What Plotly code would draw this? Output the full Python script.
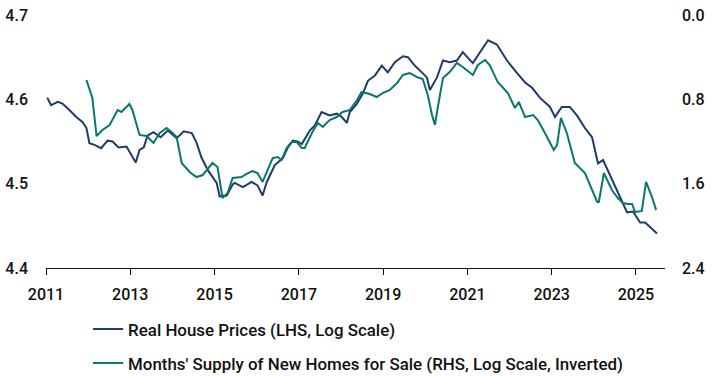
import plotly.graph_objects as go

# Real house prices (log), left axis
price_year = [2011.03, 2011.12, 2011.28, 2011.39, 2011.56, 2011.72, 2011.87, 2011.96,
              2012.03, 2012.15, 2012.31, 2012.46, 2012.58, 2012.72, 2012.91, 2013.13,
              2013.22, 2013.32, 2013.41, 2013.55, 2013.72, 2013.89, 2014.10, 2014.27,
              2014.46, 2014.57, 2014.69, 2014.84, 2015.05, 2015.12, 2015.29, 2015.43,
              2015.48, 2015.67, 2015.88, 2016.02, 2016.14, 2016.24, 2016.43, 2016.62,
              2016.74, 2016.86, 2016.97, 2017.07, 2017.26, 2017.38, 2017.54, 2017.73,
              2017.90, 2018.02, 2018.14, 2018.21, 2018.38, 2018.52, 2018.64, 2018.80,
              2018.97, 2019.11, 2019.28, 2019.47, 2019.59, 2019.75, 2019.92, 2020.04,
              2020.11, 2020.28, 2020.42, 2020.58, 2020.75, 2020.89, 2021.13, 2021.49,
              2021.70, 2021.94, 2022.18, 2022.37, 2022.53, 2022.72, 2022.96, 2023.08,
              2023.24, 2023.43, 2023.60, 2023.79, 2023.96, 2024.10, 2024.22, 2024.39,
              2024.55, 2024.69, 2024.79, 2024.93, 2025.10, 2025.22, 2025.38, 2025.50]
price_log = [4.602, 4.593, 4.597, 4.595, 4.587, 4.579, 4.573, 4.566,
             4.548, 4.546, 4.542, 4.551, 4.550, 4.543, 4.544, 4.525,
             4.540, 4.543, 4.557, 4.561, 4.555, 4.563, 4.554, 4.562,
             4.560, 4.549, 4.531, 4.516, 4.501, 4.485, 4.486, 4.499,
             4.501, 4.496, 4.502, 4.498, 4.486, 4.502, 4.522, 4.530,
             4.543, 4.551, 4.550, 4.547, 4.563, 4.569, 4.585, 4.581,
             4.583, 4.579, 4.572, 4.585, 4.595, 4.607, 4.622, 4.628,
             4.640, 4.632, 4.644, 4.651, 4.650, 4.640, 4.632, 4.626,
             4.611, 4.626, 4.646, 4.644, 4.646, 4.656, 4.643, 4.670,
             4.665, 4.646, 4.631, 4.620, 4.614, 4.602, 4.591, 4.579,
             4.591, 4.591, 4.581, 4.566, 4.555, 4.524, 4.528, 4.510,
             4.492, 4.477, 4.466, 4.467, 4.454, 4.454, 4.447, 4.441]

# Months' supply of new homes for sale (log), right axis, inverted
supply_year = [2011.96, 2012.10, 2012.20, 2012.34, 2012.51, 2012.70, 2012.79, 2012.98,
               2013.05, 2013.22, 2013.39, 2013.55, 2013.70, 2013.86, 2013.98, 2014.10,
               2014.22, 2014.41, 2014.57, 2014.72, 2014.95, 2015.07, 2015.19, 2015.31,
               2015.43, 2015.64, 2015.76, 2015.90, 2016.02, 2016.14, 2016.26, 2016.38,
               2016.50, 2016.59, 2016.71, 2016.83, 2016.95, 2017.07, 2017.14, 2017.31,
               2017.45, 2017.57, 2017.73, 2017.90, 2018.04, 2018.21, 2018.38, 2018.49,
               2018.68, 2018.85, 2018.99, 2019.16, 2019.33, 2019.47, 2019.63, 2019.80,
               2019.94, 2020.06, 2020.16, 2020.23, 2020.30, 2020.42, 2020.58, 2020.75,
               2020.89, 2021.06, 2021.13, 2021.25, 2021.42, 2021.53, 2021.72, 2021.96,
               2022.13, 2022.22, 2022.37, 2022.56, 2022.67, 2022.84, 2023.05, 2023.13,
               2023.22, 2023.36, 2023.55, 2023.79, 2023.96, 2024.08, 2024.12, 2024.24,
               2024.43, 2024.57, 2024.69, 2024.81, 2024.91, 2024.98, 2025.14, 2025.24,
               2025.38, 2025.48]
supply_log = [0.617, 0.787, 1.148, 1.091, 1.043, 0.901, 0.920, 0.844,
              0.901, 1.138, 1.148, 1.214, 1.119, 1.072, 1.110, 1.157,
              1.404, 1.489, 1.537, 1.518, 1.404, 1.442, 1.736, 1.689,
              1.546, 1.537, 1.508, 1.480, 1.499, 1.584, 1.470, 1.357,
              1.347, 1.375, 1.262, 1.205, 1.205, 1.262, 1.262, 1.119,
              1.024, 1.062, 0.996, 0.968, 0.920, 0.901, 0.806, 0.730,
              0.749, 0.778, 0.740, 0.711, 0.645, 0.569, 0.550, 0.588,
              0.607, 0.759, 0.949, 1.043, 0.873, 0.598, 0.541, 0.455,
              0.493, 0.541, 0.569, 0.474, 0.427, 0.474, 0.636, 0.740,
              0.882, 0.825, 0.968, 0.949, 0.996, 1.119, 1.281, 1.233,
              0.977, 1.119, 1.404, 1.499, 1.660, 1.774, 1.774, 1.499,
              1.660, 1.736, 1.783, 1.793, 1.793, 1.869, 1.859, 1.584,
              1.726, 1.850]

x_ticks = [2011, 2013, 2015, 2017, 2019, 2021, 2023, 2025]
left_ticks = [4.4, 4.5, 4.6, 4.7]
right_ticks = [0.0, 0.8, 1.6, 2.4]

NAVY = "#1f3a6b"
GREEN = "#08786a"
FONT = "Roboto"
TXT = "#111111"

fig = go.Figure()
fig.add_trace(go.Scatter(x=price_year, y=price_log, mode="lines",
                         name="Real House Prices (LHS, Log Scale)",
                         line=dict(color=NAVY, width=2), legendgroup="a"))
fig.add_trace(go.Scatter(x=supply_year, y=supply_log, mode="lines", yaxis="y2",
                         name="Months' Supply of New Homes for Sale (RHS, Log Scale, Inverted)",
                         line=dict(color=GREEN, width=2), legendgroup="b"))

tickfont = dict(family=FONT, size=16, color=TXT, weight=500)

fig.update_layout(
    width=718, height=376,
    margin=dict(l=46, r=53, t=15, b=108, autoexpand=False),
    plot_bgcolor="white", paper_bgcolor="white",
    font=dict(family=FONT, size=16, color=TXT),
    showlegend=True,
    legend=dict(orientation="v", x=0.068, xanchor="left", y=-0.172, yanchor="top",
                font=dict(family=FONT, size=16.9, color=TXT, weight=500), tracegroupgap=9,
                bgcolor="rgba(0,0,0,0)"),
    xaxis=dict(range=[2011, 2025.69], tickvals=x_ticks, ticktext=[str(v) for v in x_ticks],
               showgrid=False, zeroline=False, showline=True, linecolor=TXT, linewidth=1,
               ticks="outside", ticklen=6, tickcolor=TXT, automargin=False,
               tickfont=tickfont, ticklabelstandoff=6),
    yaxis=dict(range=[4.4, 4.7], tickvals=left_ticks, tickformat=".1f", automargin=False,
               showgrid=False, zeroline=False, showline=False, ticks="",
               tickfont=tickfont, ticklabelstandoff=17),
    yaxis2=dict(range=[2.4, 0.0], tickvals=right_ticks, tickformat=".1f", overlaying="y",
                side="right", showgrid=False, zeroline=False, showline=False, ticks="",
                automargin=False, tickfont=tickfont, ticklabelstandoff=16),
)

# remove the default page margin so the 718x376 figure sits at the window origin
fig.write_html("out.html", config={"displayModeBar": False},
               post_script="document.body.style.margin='0';")
